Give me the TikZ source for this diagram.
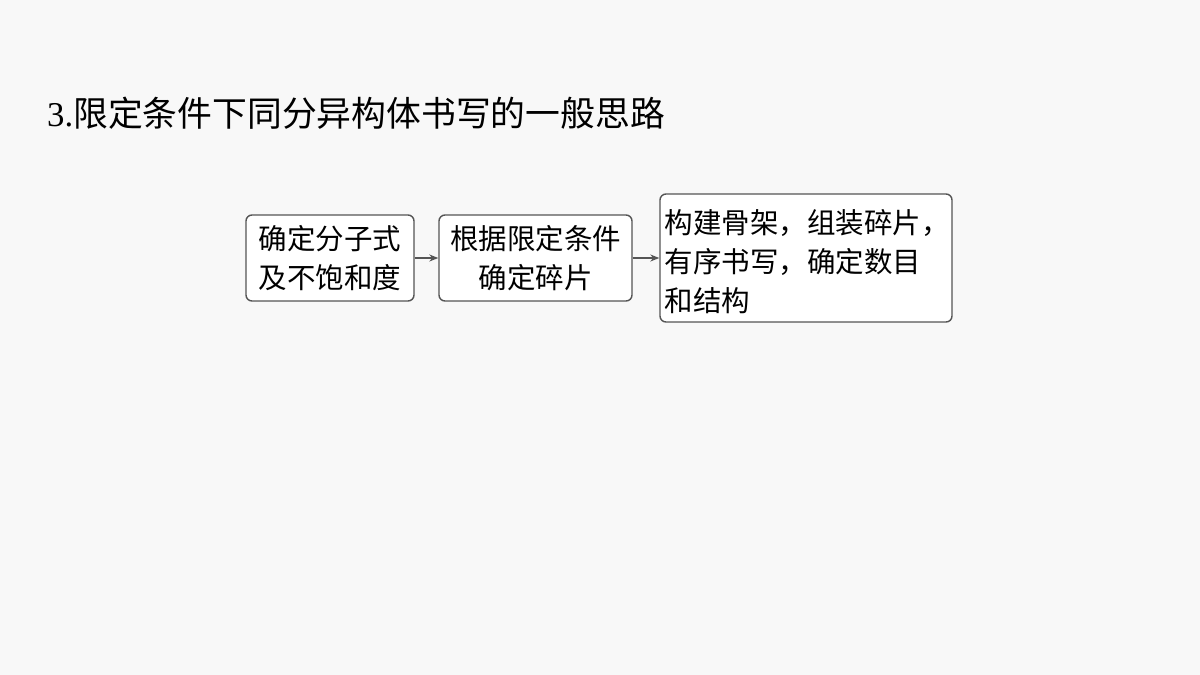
\documentclass[tikz,border=0pt]{standalone}
\usepackage{fontspec}
\setmainfont{Liberation Serif}
\newfontfamily\cjk{Noto Sans CJK SC}
\usetikzlibrary{positioning,arrows.meta}
\definecolor{pagegray}{HTML}{F8F8F8}
\definecolor{linegray}{HTML}{555555}
\tikzset{
  stepbox/.style={draw=linegray, line width=1.4pt, rounded corners=6pt, fill=white,
    inner sep=0pt, minimum height=86pt, align=center,
    execute at begin node={\rule{0pt}{31pt}},
    font=\cjk\fontsize{28.5}{39}\selectfont},
  flowarrow/.style={draw=linegray, line width=1.3pt, -{Stealth[length=9pt,width=7pt]}}
}
\begin{document}
\begin{tikzpicture}[x=1pt,y=1pt]
\useasboundingbox[fill=pagegray] (0,0) rectangle (1200,-675);
\node[anchor=west, inner sep=0pt, font=\cjk\fontsize{34.8}{40}\selectfont] (title) at (47,-113) {{\rmfamily 3.}限定条件下同分异构体书写的一般思路};
\node[stepbox, minimum width=168pt] (formula) at (330,-258) {确定分子式\\及不饱和度};
\node[stepbox, minimum width=193pt, right=23.6pt of formula] (pieces) {根据限定条件\\确定碎片};
\node[stepbox, minimum height=128pt, text width=283pt, inner xsep=4.5pt, align=left, right=26.6pt of pieces] (build) {构建骨架，组装碎片，\\有序书写，确定数目\\和结构};
\draw[flowarrow] (formula) -- (pieces);
\draw[flowarrow] (pieces) -- (build);
\end{tikzpicture}
\end{document}
